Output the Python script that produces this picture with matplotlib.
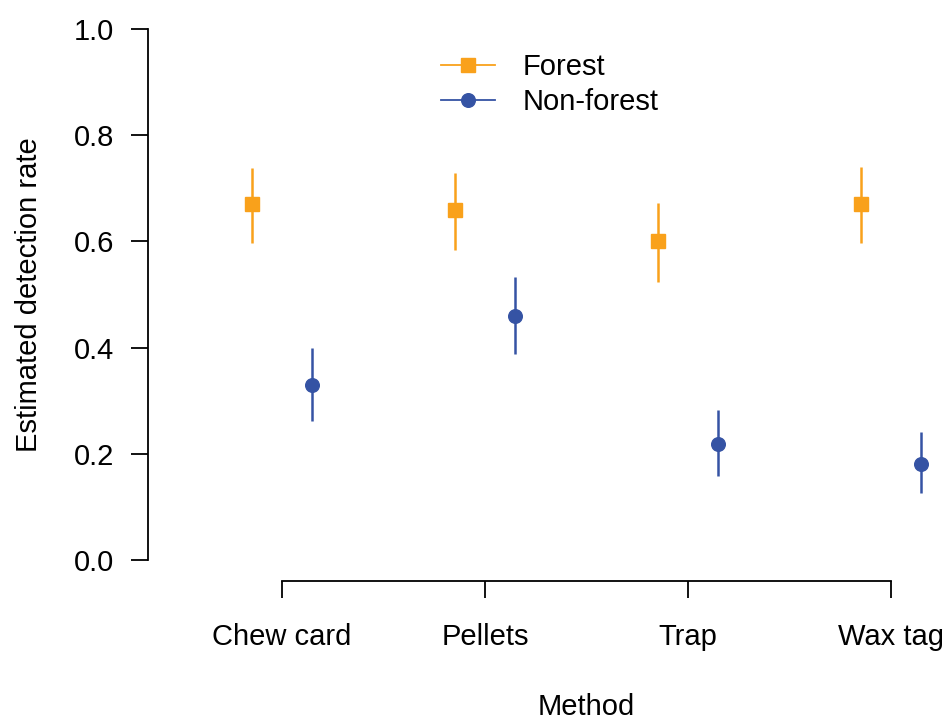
import matplotlib
matplotlib.use("Agg")
import matplotlib.pyplot as plt
import numpy as np
from matplotlib.lines import Line2D

plt.rcParams['font.family'] = ['Liberation Sans', 'DejaVu Sans']

# data
methods = ["Chew card", "Pellets", "Trap", "Wax tag"]
forest_est = [0.670, 0.659, 0.601, 0.670]
forest_lo = [0.597, 0.584, 0.524, 0.597]
forest_hi = [0.738, 0.729, 0.672, 0.740]
nonforest_est = [0.330, 0.460, 0.218, 0.181]
nonforest_lo = [0.262, 0.388, 0.158, 0.126]
nonforest_hi = [0.399, 0.533, 0.282, 0.241]

col_forest = '#F9A11B'
col_nonforest = '#3553A4'
FS = 21

fig = plt.figure(figsize=(9.46, 7.2), dpi=100)
# plot region goes past the right edge, like the original
ax = fig.add_axes([148 / 946, 139 / 720, 877 / 946, 573 / 720])

x = np.arange(1, len(methods) + 1)
off = 0.15

for xs, est, lo, hi, col, mk in [
    (x - off, forest_est, forest_lo, forest_hi, col_forest, 's'),
    (x + off, nonforest_est, nonforest_lo, nonforest_hi, col_nonforest, 'o'),
]:
    ax.vlines(xs, lo, hi, color=col, lw=1.8)
    ax.plot(xs, est, linestyle='none', marker=mk, ms=9.8, color=col, mec=col)

ax.set_xlim(0.34, 4.66)
ax.set_ylim(-0.04, 1.04)

for s in ['top', 'right']:
    ax.spines[s].set_visible(False)
ax.spines['left'].set_bounds(0, 1)
ax.spines['bottom'].set_bounds(1, 4)
for s in ['left', 'bottom']:
    ax.spines[s].set_linewidth(1.3)

ax.set_yticks([0, 0.2, 0.4, 0.6, 0.8, 1.0])
ax.set_yticklabels(["0.0", "0.2", "0.4", "0.6", "0.8", "1.0"])
ax.set_xticks(x)
ax.set_xticklabels(methods)
ax.tick_params(axis='both', direction='out', length=12.5, width=1.3, labelsize=FS)
ax.tick_params(axis='y', pad=12)
ax.tick_params(axis='x', pad=18)

ax.set_xlabel("Method", fontsize=FS)
ax.xaxis.set_label_coords(0.5, -0.196)
ax.set_ylabel("Estimated detection rate", fontsize=FS, va='center')
ax.yaxis.set_label_coords(-0.136, 0.5)

handles = [
    Line2D([], [], color=col_forest, lw=1.3, marker='s', ms=9.8),
    Line2D([], [], color=col_nonforest, lw=1.3, marker='o', ms=9.8),
]
fig.legend(handles, ["Forest", "Non-forest"], loc='upper left',
           bbox_to_anchor=(441 / 946, 1 - 53 / 720), frameon=False,
           fontsize=FS, handlelength=1.85, handletextpad=0.95,
           labelspacing=0.25, borderpad=0, borderaxespad=0)

fig.savefig("out.png", dpi=100)
